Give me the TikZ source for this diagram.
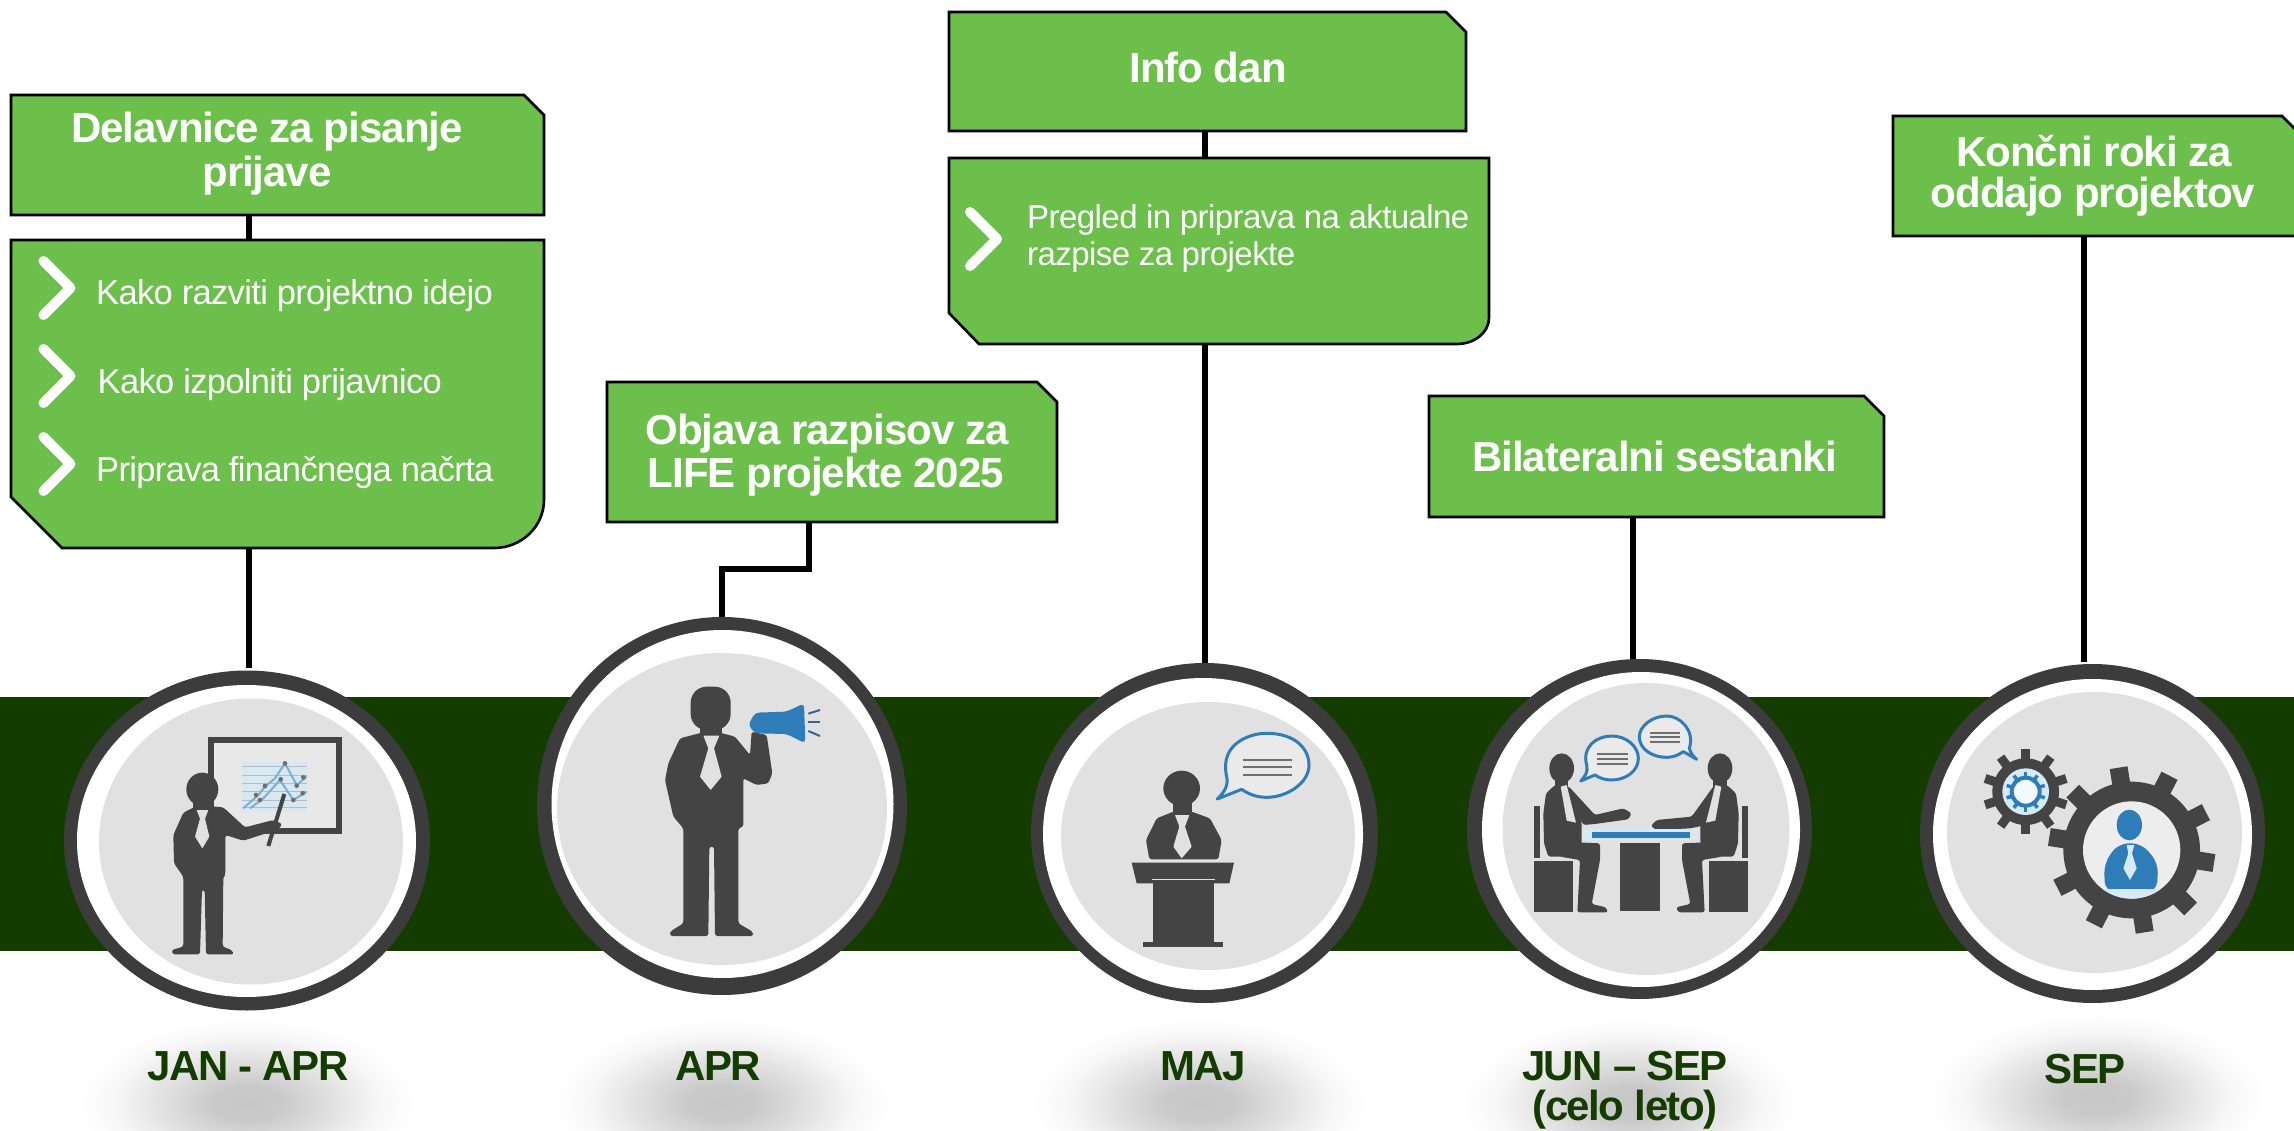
\documentclass[tikz,border=0pt]{standalone}
\usepackage{fontspec}
\setmainfont{Liberation Sans}
\newfontfamily\ttlfont{Liberation Sans}[LetterSpace=-2.4]
\newfontfamily\itmfont{Liberation Sans}[LetterSpace=-1.9]
\newfontfamily\itmtfont{Liberation Sans}[LetterSpace=-1.7]
\newfontfamily\monfont{Liberation Sans}[LetterSpace=-3.5]
\usetikzlibrary{shapes.geometric}
\definecolor{boxgreen}{HTML}{6CBF4B}
\definecolor{bandgreen}{HTML}{143C00}
\definecolor{ringdark}{HTML}{3C3C3C}
\definecolor{innergray}{HTML}{E1E1E1}
\definecolor{icondark}{HTML}{444444}
\definecolor{iconblue}{HTML}{2E7DB8}
\definecolor{paleblue}{HTML}{D6EAF6}
\definecolor{barline}{HTML}{6E6E6E}
\pgfdeclareradialshading{softblob}{\pgfpointorigin}{rgb(0bp)=(.78,.78,.78); rgb(5bp)=(.79,.79,.79); rgb(12.5bp)=(.88,.88,.88); rgb(20bp)=(.97,.97,.97); rgb(25bp)=(1,1,1); rgb(50bp)=(1,1,1)}
\tikzset{
  boxline/.style={draw=black,line width=2.6pt,fill=boxgreen,line join=miter},
  anchorbox/.style={inner sep=0pt,outer sep=0pt,draw=none},
  conn/.style={draw=black,line width=6pt,line join=miter},
  ttl/.style={anchor=base,text=white,inner sep=0pt,font=\ttlfont\fontsize{42}{44}\selectfont\bfseries},
  itm/.style={anchor=base west,text=white,inner sep=0pt,font=\itmfont\fontsize{34.5}{36}\selectfont},
  itmt/.style={anchor=base west,text=white,inner sep=0pt,font=\itmtfont\fontsize{33}{36}\selectfont},
  month/.style={anchor=base,text=bandgreen,inner sep=0pt,font=\monfont\fontsize{42}{44}\selectfont\bfseries},
  chev/.style={draw=white,line width=10pt,line cap=round,line join=round},
  disc/.style={ellipse,inner sep=0pt,outer sep=0pt,fill=ringdark},
  zoomed/.style={x=0.33333pt,y=-0.33333pt},
  sil/.style={fill=icondark,rounded corners=2.5pt},
  tie/.style={fill=innergray,rounded corners=0.5pt},
  bubble/.style={draw=iconblue,line width=3pt,fill=white!30!innergray,line join=round},
  txtbar/.style={draw=barline,line width=1.7pt},
}
\newcommand{\chambox}[5]{%
  \draw[boxline] (#2,#3) -- ({#4-20},#3) -- (#4,{#3+20}) -- (#4,#5) -- (#2,#5) -- cycle;
  \node[anchorbox,minimum width={(#4-#2)*1pt},minimum height={(#5-#3)*1pt}] (#1) at ({(#2+#4)/2},{(#3+#5)/2}) {};}
% name x0 y0 x1 y1 chamfer-x chamfer-y rx ry
\newcommand{\detailbox}[9]{%
  \draw[boxline] (#2,#3) -- (#4,#3) -- (#4,{#5-#9})
    .. controls (#4,{#5-0.45*#9}) and ({#4-0.45*#8},#5) .. ({#4-#8},#5)
    -- ({#2+#6},#5) -- (#2,{#5-#7}) -- cycle;
  \node[anchorbox,minimum width={(#4-#2)*1pt},minimum height={(#5-#3)*1pt}] (#1) at ({(#2+#4)/2},{(#3+#5)/2}) {};}
\newcommand{\chevron}[2]{\draw[chev] ({#1},{#2-27}) -- ({#1+27},#2) -- ({#1},{#2+27});}
\newcommand{\blob}[2]{\shade[shading=softblob] (#1,#2) ellipse [x radius=168,y radius=85];}
\newcommand{\medallion}[9]{%
  \node[disc,minimum width={2*#4*1pt},minimum height={2*#5*1pt}] (#1) at (#2,#3) {};
  \fill[white] (#6,#7) ellipse [x radius=#8,y radius=#9];}
\newcommand{\grayface}[4]{\fill[innergray] (#1,#2) ellipse [x radius=#3,y radius=#4];}
\begin{document}
\begin{tikzpicture}[x=1pt,y=-1pt]
\useasboundingbox (0,0) rectangle (2294,1131);
\clip (0,0) rectangle (2294,1131);
\fill[white] (0,0) rectangle (2294,1131);
% shadows
\blob{247}{1103}\blob{722}{1103}\blob{1200}{1103}\blob{1630}{1103}\blob{2097}{1098}
% band
\fill[bandgreen] (0,697) rectangle (2294,951);
% boxes
\chambox{t1}{11}{95}{544}{215}
\detailbox{d1}{11}{240}{544}{548}{51}{51}{50}{48}
\chambox{t2}{607}{382}{1057}{522}
\chambox{t3}{949}{12}{1466}{131}
\detailbox{d3}{949}{158}{1489}{344}{30}{31}{32}{26}
\chambox{t4}{1429}{396}{1884}{517}
\draw[boxline] (1893,116) -- (2282,116) -- (2302,136) -- (2302,236) -- (1893,236) -- cycle;
\node[anchorbox,minimum width=409pt,minimum height=120pt] (t5) at (2097.5,176) {};
% connector joints
\coordinate (j1) at (249,668);
\coordinate (j2a) at (809,569);
\coordinate (j2b) at (722,569);
\coordinate (j2) at (722,619);
\coordinate (j3) at (1205,663);
\coordinate (j4) at (1633,659);
\coordinate (j5) at (2084,662);
\draw[conn] (t1.south -| j1) -- (d1.north -| j1);
\draw[conn] (d1.south -| j1) -- (j1);
\draw[conn] (t2.south -| j2a) -- (j2a) -- (j2b) -- (j2);
\draw[conn] (t3.south -| j3) -- (d3.north -| j3);
\draw[conn] (d3.south -| j3) -- (j3);
\draw[conn] (t4.south -| j4) -- (j4);
\draw[conn] (t5.south -| j5) -- (j5);
% titles
\node[ttl] (t1a) at (267,143) {Delavnice za pisanje};
\node[ttl] (t1b) at (267,187) {prijave};
\node[ttl] (t2a) at (827,444) {Objava razpisov za};
\node[ttl] (t2b) at (826,487) {LIFE projekte 2025};
\node[ttl] (t3a) at (1208,83) {Info dan};
\node[ttl] (t4a) at (1654.5,471) {Bilateralni sestanki};
\node[ttl] (t5a) at (2094,167) {Končni roki za};
\node[ttl] (t5b) at (2093,208) {oddajo projektov};
% items
\chevron{43.5}{288}\chevron{43.5}{376}\chevron{43.5}{464}
\node[itm] (i1) at (96,305) {Kako razviti projektno idejo};
\node[itm] (i2) at (97.5,393) {Kako izpolniti prijavnico};
\node[itm] (i3) at (96,481) {Priprava finančnega načrta};
\chevron{970}{239}
\node[itmt] (i4) at (1027,229) {Pregled in priprava na aktualne};
\node[itmt] (i5) at (1027,266) {razpise za projekte};
% medallions
\medallion{c1}{247}{840.5}{183}{170}{246.5}{841}{169.5}{156}
\grayface{251}{841.5}{152}{143}
\medallion{c2}{722}{806}{185}{189}{722.5}{804}{171}{174}
\grayface{722}{809}{165}{156}
\medallion{c3}{1204.5}{833}{173.5}{170}{1203}{834}{160}{156}
\grayface{1208}{836}{147}{134}
\medallion{c4}{1639.5}{829}{172.5}{170}{1641}{829.5}{159}{157.5}
\grayface{1646}{829}{143.5}{146}
\medallion{c5}{2092.5}{833.5}{172.5}{169.5}{2092.5}{834.5}{159.5}{155.5}
\grayface{2094.5}{832.5}{147.5}{140.5}
% months
\node[month] (m1) at (248,1080) {JAN - APR};
\node[month] (m2) at (718,1080) {APR};
\node[month] (m3) at (1203,1080) {MAJ};
\node[month] (m4) at (1625,1080) {JUN – SEP};
\node[month] (m4b) at (1625,1120) {(celo leto)};
\node[month] (m5) at (2085,1083) {SEP};
% icon 1: presenter
\begin{scope}[shift={(150,720)},zoomed]
\draw[icondark,line width=6pt,fill=white!25!innergray,line join=miter] (184,60) rectangle (566,333);
\fill[paleblue!70!innergray] (275,125) rectangle (470,275);
\foreach \yy in {140,165,190,215,240,262}{\draw[barline!35!paleblue,line width=.6pt] (275,\yy) -- (470,\yy);}
\draw[iconblue!55!paleblue,line width=2pt] (280,265) -- (325,225) -- (345,200) -- (375,175) -- (405,130) -- (440,195) -- (470,170);
\draw[iconblue!55!paleblue,line width=2pt] (300,265) -- (340,235) -- (390,180) -- (430,240) -- (470,215);
\foreach \pp in {(318,225),(345,198),(392,178),(405,130),(440,197),(430,240),(460,172),(458,220),(330,240)}{\fill[barline] \pp circle [radius=7];}
\draw[icondark,line width=4pt] (355,378) -- (403,222);
\fill[icondark] (157,208) ellipse [x radius=48,y radius=50];
\fill[icondark] (130,235) rectangle (185,272);
\path[sil] (140,258) -- (100,278) -- (70,345) -- (72,430) -- (100,470) -- (100,680) -- (65,690) -- (68,703) -- (150,703) -- (156,510) -- (164,510) -- (168,703) -- (252,703) -- (245,690) -- (218,680) -- (220,470) -- (226,465) -- (226,345) -- (280,362) -- (385,328) -- (397,312) -- (370,300) -- (285,322) -- (220,262) -- (175,258) -- cycle;
\path[tie] (140,270) -- (175,270) -- (165,296) -- (178,350) -- (157,385) -- (135,350) -- (150,296) -- cycle;
\end{scope}
% icon 2: megaphone
\begin{scope}[shift={(640,670)},zoomed]
\fill[icondark,rounded corners=16pt] (152,50) rectangle (272,180);
\fill[icondark] (180,150) rectangle (245,200);
\path[sil] (185,188) -- (120,205) -- (85,280) -- (75,330) -- (100,440) -- (130,475) -- (130,760) -- (90,785) -- (90,798) -- (205,798) -- (208,530) -- (222,530) -- (225,798) -- (340,798) -- (338,785) -- (295,760) -- (295,475) -- (310,470) -- (310,325) -- (350,345) -- (385,340) -- (397,310) -- (380,195) -- (335,185) -- (330,255) -- (285,200) -- (240,188) -- cycle;
\path[tie] (190,197) -- (238,197) -- (222,235) -- (245,320) -- (212,360) -- (180,320) -- (205,235) -- cycle;
\fill[iconblue,rounded corners=4pt] (345,128) -- (440,125) -- (492,100) -- (496,220) -- (440,192) -- (345,190) -- (325,165) -- cycle;
\foreach \a/\b in {{(505,131)/(540,120)},{(505,157)/(540,157)},{(505,183)/(540,198)}}{\draw[iconblue!60!icondark,line width=2pt] \a -- \b;}
\end{scope}
% icon 3: lectern
\begin{scope}[shift={(1110,720)},zoomed]
\fill[icondark] (215,205) ellipse [x radius=55,y radius=53];
\fill[icondark] (190,240) rectangle (245,285);
\path[sil] (190,275) -- (140,295) -- (108,360) -- (118,418) -- (325,418) -- (335,360) -- (300,295) -- (245,275) -- cycle;
\path[tie] (195,285) -- (238,285) -- (225,320) -- (245,380) -- (215,415) -- (190,380) -- (208,320) -- cycle;
\fill[icondark] (65,428) -- (372,428) -- (358,490) -- (80,490) -- cycle;
\draw[icondark,fill=icondark] (130,482) rectangle (310,665);
\draw[innergray,line width=1.2pt] (125,478) -- (315,478);
\fill[icondark] (100,665) rectangle (340,682);
\draw[bubble] (350,170) .. controls (325,60) and (440,38) .. (470,40) .. controls (560,40) and (597,90) .. (597,135) .. controls (597,190) and (530,232) .. (470,232) .. controls (440,232) and (415,222) .. (395,208) -- (322,237) .. controls (345,215) and (355,195) .. (350,170) -- cycle;
\foreach \yy in {120,142,165}{\draw[txtbar] (400,\yy) -- (545,\yy);}
\end{scope}
% icon 4: meeting
\begin{scope}[shift={(1520,700)},zoomed]
\fill[icondark] (42,318) rectangle (60,475);
\fill[icondark] (42,482) rectangle (160,637);
\fill[icondark] (666,318) rectangle (684,475);
\fill[icondark] (566,482) rectangle (684,637);
\fill[icondark] (125,205) ellipse [x radius=37,y radius=45];
\fill[icondark] (600,205) ellipse [x radius=37,y radius=45];
\fill[icondark] (105,235) rectangle (145,265);
\fill[icondark] (580,235) rectangle (620,265);
\path[sil] (105,255) -- (78,280) -- (70,340) -- (72,430) -- (85,470) -- (170,470) -- (185,430) -- (185,370) -- (165,300) -- (145,258) -- cycle;
\path[sil] (120,425) -- (240,430) -- (240,480) -- (215,612) -- (258,622) -- (264,637) -- (172,637) -- (180,480) -- (120,470) -- cycle;
\path[sil] (145,258) -- (225,345) -- (310,325) -- (335,340) -- (325,358) -- (225,372) -- (190,375) -- (150,300) -- cycle;
\path[tie] (122,260) -- (140,255) -- (168,368) -- (140,362) -- cycle;
\path[sil] (621,255) -- (648,280) -- (656,340) -- (654,430) -- (641,470) -- (556,470) -- (541,430) -- (541,370) -- (561,300) -- (581,258) -- cycle;
\path[sil] (606,425) -- (486,430) -- (486,480) -- (511,612) -- (468,622) -- (475,637) -- (554,637) -- (546,480) -- (606,470) -- cycle;
\path[sil] (581,258) -- (515,350) -- (410,360) -- (392,378) -- (410,390) -- (510,385) -- (560,375) -- (578,300) -- cycle;
\path[tie] (604,260) -- (586,255) -- (558,368) -- (586,362) -- cycle;
\fill[paleblue] (185,388) rectangle (535,420);
\fill[iconblue] (215,395) rectangle (510,415);
\fill[icondark] (300,428) rectangle (420,633);
\draw[bubble] (200,195) .. controls (185,140) and (230,108) .. (275,108) .. controls (320,108) and (355,140) .. (355,175) .. controls (355,215) and (315,240) .. (275,240) .. controls (255,240) and (240,235) .. (225,225) -- (182,243) .. controls (195,230) and (205,215) .. (200,195) -- cycle;
\foreach \yy in {162,178,192}{\draw[txtbar] (230,\yy) -- (325,\yy);}
\draw[bubble] (508,145) .. controls (525,90) and (480,48) .. (440,48) .. controls (395,48) and (358,80) .. (358,110) .. controls (358,150) and (400,172) .. (440,172) .. controls (460,172) and (475,165) .. (490,155) -- (530,178) .. controls (520,170) and (512,160) .. (508,145) -- cycle;
\foreach \yy in {98,112,126}{\draw[txtbar] (390,\yy) -- (480,\yy);}
\end{scope}
% icon 5: gears
\begin{scope}[shift={(1780,650)},zoomed]
\foreach \a in {90,54,18,-18,-54,-90,-126,-162,162,126}{
  \draw[icondark,line width=9pt] ({737+80*cos(\a)},{425-80*sin(\a)}) -- ({737+128*cos(\a)},{425-128*sin(\a)});}
\fill[icondark] (737,425) circle [radius=100];
\fill[paleblue] (737,425) circle [radius=70];
\foreach \a in {90,54,18,-18,-54,-90,-126,-162,162,126}{
  \draw[iconblue,line width=3.5pt] ({737+38*cos(\a)},{425-38*sin(\a)}) -- ({737+60*cos(\a)},{425-60*sin(\a)});}
\draw[iconblue,line width=4pt,fill=white!70!paleblue] (737,425) circle [radius=42];
\foreach \a in {99,63,27,-9,-45,-81,-117,-153,171,135}{
  \draw[icondark,line width=18pt] ({1055+190*cos(\a)},{600-190*sin(\a)}) -- ({1055+250*cos(\a)},{600-250*sin(\a)});}
\fill[icondark] (1055,600) circle [radius=205];
\fill[white!40!innergray] (1055,600) circle [radius=146];
\begin{scope}
\clip (1055,600) circle [radius=146];
\fill[iconblue,rounded corners=10pt] (975,725) -- (972,640) -- (1015,580) -- (1085,580) -- (1135,640) -- (1130,725) -- cycle;
\fill[paleblue] (960,718) rectangle (1150,760);
\end{scope}
\fill[iconblue] (1048,525) ellipse [x radius=38,y radius=46];
\path[tie,fill=paleblue] (1040,585) -- (1063,585) -- (1056,610) -- (1070,655) -- (1050,690) -- (1030,655) -- (1045,610) -- cycle;
\end{scope}
\end{tikzpicture}
\end{document}
